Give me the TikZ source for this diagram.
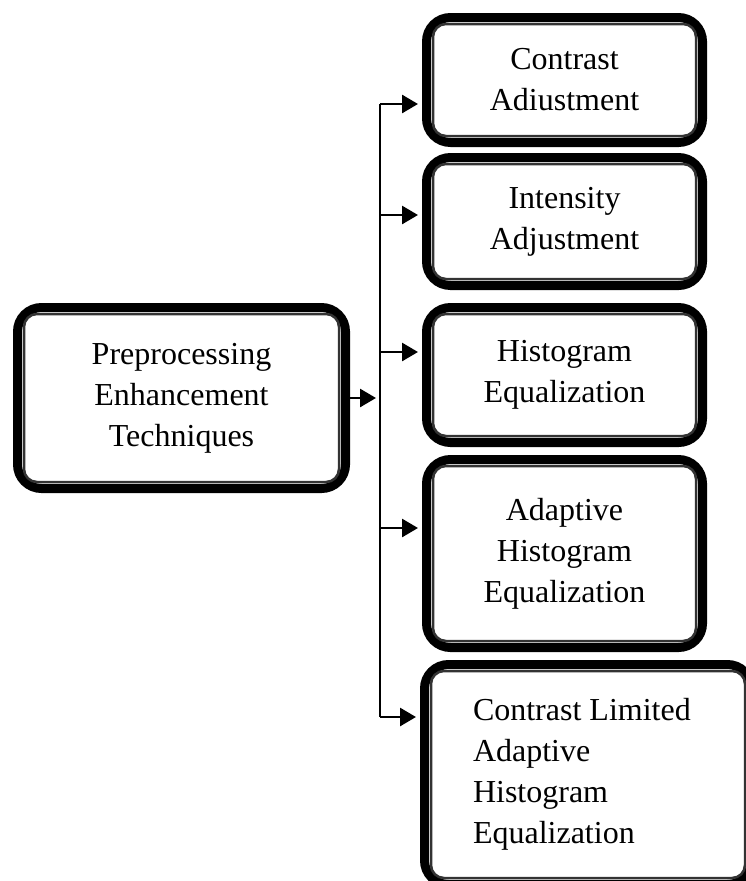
\documentclass[tikz,border=0pt]{standalone}
\usepackage{fontspec}
\setmainfont{Liberation Serif}
\usetikzlibrary{arrows.meta,positioning}
\tikzset{
technique/.style={draw, line width=9pt, rounded corners=24pt, align=center, inner sep=0pt, font=\fontsize{32}{41}\selectfont}, % outer frame of each box
innerframe/.style={draw=black!80, line width=2.5pt, rounded corners=13pt}, % thin frame inside it
connection/.style={line width=2.8pt, shorten >=4pt, -{Triangle[length=16pt,width=18pt]}},
bus/.style={line width=2.6pt},
}

\begin{document}
\begin{tikzpicture}[x=1pt,y=1pt,yscale=-1,xscale=1]
		\useasboundingbox (0,0) rectangle (745,881);
		
		% Text Node
		\node[technique, minimum width=328, minimum height=181] (main) at (181.5,398) {Preprocessing\\Enhancement\\Techniques};
		% Text Node
		\node[technique, minimum width=276, minimum height=125] (b1) at (564.5,80) {Contrast\\Adiustment};
		% Text Node
		\node[technique, minimum width=276, minimum height=128] (b2) at (564.5,221.5) {Intensity\\Adjustment};
		% Text Node
		\node[technique, minimum width=276, minimum height=135] (b3) at (564.5,375) {Histogram\\Equalization};
		% Text Node
		\node[technique, minimum width=276, minimum height=188] (b4) at (564.5,553.5) {Adaptive\\Histogram\\Equalization};
		% Text Node
		\node[technique, minimum width=327, minimum height=220, align=flush left, text width=230] (b5) at (588,774.5) {Contrast Limited\\Adaptive\\Histogram\\Equalization};
		
		% inner frames
		\foreach \n in {main,b1,b2,b3,b4,b5}
			\draw[innerframe] ([shift={(11,11)}]\n.north west) rectangle ([shift={(-11,-11)}]\n.south east);
		
		% Connection
		\coordinate (top) at (380,104);
		\coordinate (bot) at (380,717);
		\draw[bus] (top) -- (bot);
		\draw[connection] (main.east) -- (main.east -| top);
		
		% Connection
		\foreach \b/\y in {b1/104,b2/215,b3/352,b4/528,b5/717} {
			\coordinate (s\b) at (380,\y);
			\draw[connection] (s\b) -- (s\b -| \b.west);
		}
		
\end{tikzpicture}
\end{document}
